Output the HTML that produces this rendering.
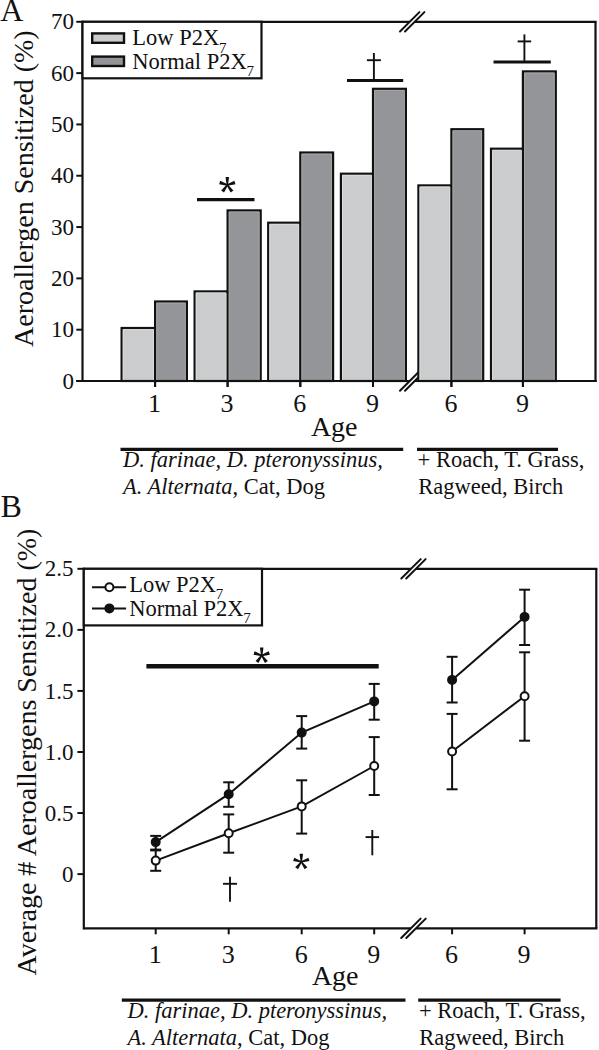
<!DOCTYPE html>
<html><head><meta charset="utf-8"><title>Figure</title>
<style>
html,body{margin:0;padding:0;background:#fff;}
body{width:599px;height:1050px;overflow:hidden;}
svg{display:block;}
text{font-family:"Liberation Serif", serif;fill:#111;}
</style></head>
<body>
<svg width="599" height="1050" viewBox="0 0 599 1050">
<rect x="0" y="0" width="599" height="1050" fill="#fff"/>
<text x="0.30" y="20.50" font-size="32" text-anchor="start" >A</text>
<text transform="translate(33.3,347) rotate(-90)" x="0" y="0" font-size="28">Aeroallergen Sensitized (%)</text>
<line x1="76.30" y1="381.00" x2="82.50" y2="381.00" stroke="#111" stroke-width="2" stroke-linecap="butt"/>
<text x="74.00" y="388.60" font-size="23" text-anchor="end" >0</text>
<line x1="76.30" y1="329.69" x2="82.50" y2="329.69" stroke="#111" stroke-width="2" stroke-linecap="butt"/>
<text x="74.00" y="337.29" font-size="23" text-anchor="end" >10</text>
<line x1="76.30" y1="278.37" x2="82.50" y2="278.37" stroke="#111" stroke-width="2" stroke-linecap="butt"/>
<text x="74.00" y="285.97" font-size="23" text-anchor="end" >20</text>
<line x1="76.30" y1="227.06" x2="82.50" y2="227.06" stroke="#111" stroke-width="2" stroke-linecap="butt"/>
<text x="74.00" y="234.66" font-size="23" text-anchor="end" >30</text>
<line x1="76.30" y1="175.74" x2="82.50" y2="175.74" stroke="#111" stroke-width="2" stroke-linecap="butt"/>
<text x="74.00" y="183.34" font-size="23" text-anchor="end" >40</text>
<line x1="76.30" y1="124.43" x2="82.50" y2="124.43" stroke="#111" stroke-width="2" stroke-linecap="butt"/>
<text x="74.00" y="132.03" font-size="23" text-anchor="end" >50</text>
<line x1="76.30" y1="73.11" x2="82.50" y2="73.11" stroke="#111" stroke-width="2" stroke-linecap="butt"/>
<text x="74.00" y="80.71" font-size="23" text-anchor="end" >60</text>
<line x1="76.30" y1="21.80" x2="82.50" y2="21.80" stroke="#111" stroke-width="2" stroke-linecap="butt"/>
<text x="74.00" y="29.40" font-size="23" text-anchor="end" >70</text>
<line x1="82.50" y1="20.70" x2="82.50" y2="382.10" stroke="#111" stroke-width="2.2" stroke-linecap="butt"/>
<line x1="76.20" y1="381.00" x2="409.70" y2="381.00" stroke="#111" stroke-width="2.2" stroke-linecap="butt"/>
<line x1="414.70" y1="381.00" x2="596.60" y2="381.00" stroke="#111" stroke-width="2.2" stroke-linecap="butt"/>
<line x1="82.50" y1="21.80" x2="409.70" y2="21.80" stroke="#111" stroke-width="2.2" stroke-linecap="butt"/>
<line x1="414.70" y1="21.80" x2="596.60" y2="21.80" stroke="#111" stroke-width="2.2" stroke-linecap="butt"/>
<line x1="595.50" y1="21.80" x2="595.50" y2="381.00" stroke="#111" stroke-width="2.2" stroke-linecap="butt"/>
<line x1="400.00" y1="31.50" x2="419.40" y2="12.10" stroke="#111" stroke-width="2" stroke-linecap="round"/>
<line x1="405.00" y1="31.50" x2="424.40" y2="12.10" stroke="#111" stroke-width="2" stroke-linecap="round"/>
<line x1="400.00" y1="390.70" x2="419.40" y2="371.30" stroke="#111" stroke-width="2" stroke-linecap="round"/>
<line x1="405.00" y1="390.70" x2="424.40" y2="371.30" stroke="#111" stroke-width="2" stroke-linecap="round"/>
<rect x="121.60" y="328.00" width="33.50" height="53.00" fill="#cbcccd" stroke="#111" stroke-width="2.2"/>
<rect x="155.10" y="301.50" width="31.80" height="79.50" fill="#939598" stroke="#111" stroke-width="2.2"/>
<path d="M123.25,379.90 V329.65 H153.45 V379.90" fill="none" stroke="#dadbdc" stroke-width="1"/>
<path d="M156.75,379.90 V303.15 H185.25 V379.90" fill="none" stroke="#a3a5a7" stroke-width="1"/>
<line x1="155.10" y1="381.00" x2="155.10" y2="387.00" stroke="#111" stroke-width="2" stroke-linecap="butt"/>
<rect x="194.60" y="291.40" width="33.00" height="89.60" fill="#cbcccd" stroke="#111" stroke-width="2.2"/>
<rect x="227.60" y="210.40" width="33.10" height="170.60" fill="#939598" stroke="#111" stroke-width="2.2"/>
<path d="M196.25,379.90 V293.05 H225.95 V379.90" fill="none" stroke="#dadbdc" stroke-width="1"/>
<path d="M229.25,379.90 V212.05 H259.05 V379.90" fill="none" stroke="#a3a5a7" stroke-width="1"/>
<line x1="227.60" y1="381.00" x2="227.60" y2="387.00" stroke="#111" stroke-width="2" stroke-linecap="butt"/>
<rect x="268.20" y="222.70" width="32.10" height="158.30" fill="#cbcccd" stroke="#111" stroke-width="2.2"/>
<rect x="300.30" y="152.50" width="32.80" height="228.50" fill="#939598" stroke="#111" stroke-width="2.2"/>
<path d="M269.85,379.90 V224.35 H298.65 V379.90" fill="none" stroke="#dadbdc" stroke-width="1"/>
<path d="M301.95,379.90 V154.15 H331.45 V379.90" fill="none" stroke="#a3a5a7" stroke-width="1"/>
<line x1="300.30" y1="381.00" x2="300.30" y2="387.00" stroke="#111" stroke-width="2" stroke-linecap="butt"/>
<rect x="340.90" y="173.70" width="32.10" height="207.30" fill="#cbcccd" stroke="#111" stroke-width="2.2"/>
<rect x="373.00" y="88.80" width="32.90" height="292.20" fill="#939598" stroke="#111" stroke-width="2.2"/>
<path d="M342.55,379.90 V175.35 H371.35 V379.90" fill="none" stroke="#dadbdc" stroke-width="1"/>
<path d="M374.65,379.90 V90.45 H404.25 V379.90" fill="none" stroke="#a3a5a7" stroke-width="1"/>
<line x1="373.00" y1="381.00" x2="373.00" y2="387.00" stroke="#111" stroke-width="2" stroke-linecap="butt"/>
<rect x="418.40" y="185.40" width="33.00" height="195.60" fill="#cbcccd" stroke="#111" stroke-width="2.2"/>
<rect x="451.40" y="129.20" width="31.80" height="251.80" fill="#939598" stroke="#111" stroke-width="2.2"/>
<path d="M420.05,379.90 V187.05 H449.75 V379.90" fill="none" stroke="#dadbdc" stroke-width="1"/>
<path d="M453.05,379.90 V130.85 H481.55 V379.90" fill="none" stroke="#a3a5a7" stroke-width="1"/>
<line x1="451.40" y1="381.00" x2="451.40" y2="387.00" stroke="#111" stroke-width="2" stroke-linecap="butt"/>
<rect x="491.00" y="148.70" width="31.90" height="232.30" fill="#cbcccd" stroke="#111" stroke-width="2.2"/>
<rect x="522.90" y="71.40" width="32.90" height="309.60" fill="#939598" stroke="#111" stroke-width="2.2"/>
<path d="M492.65,379.90 V150.35 H521.25 V379.90" fill="none" stroke="#dadbdc" stroke-width="1"/>
<path d="M524.55,379.90 V73.05 H554.15 V379.90" fill="none" stroke="#a3a5a7" stroke-width="1"/>
<line x1="522.90" y1="381.00" x2="522.90" y2="387.00" stroke="#111" stroke-width="2" stroke-linecap="butt"/>
<line x1="81.40" y1="381.00" x2="409.70" y2="381.00" stroke="#111" stroke-width="2.2" stroke-linecap="butt"/>
<line x1="414.70" y1="381.00" x2="596.60" y2="381.00" stroke="#111" stroke-width="2.2" stroke-linecap="butt"/>
<line x1="155.10" y1="381.00" x2="155.10" y2="387.00" stroke="#111" stroke-width="2" stroke-linecap="butt"/>
<line x1="227.60" y1="381.00" x2="227.60" y2="387.00" stroke="#111" stroke-width="2" stroke-linecap="butt"/>
<line x1="300.30" y1="381.00" x2="300.30" y2="387.00" stroke="#111" stroke-width="2" stroke-linecap="butt"/>
<line x1="373.00" y1="381.00" x2="373.00" y2="387.00" stroke="#111" stroke-width="2" stroke-linecap="butt"/>
<line x1="451.40" y1="381.00" x2="451.40" y2="387.00" stroke="#111" stroke-width="2" stroke-linecap="butt"/>
<line x1="522.90" y1="381.00" x2="522.90" y2="387.00" stroke="#111" stroke-width="2" stroke-linecap="butt"/>
<text x="154.60" y="411.70" font-size="26" text-anchor="middle" >1</text>
<text x="227.10" y="411.70" font-size="26" text-anchor="middle" >3</text>
<text x="299.80" y="411.70" font-size="26" text-anchor="middle" >6</text>
<text x="372.50" y="411.70" font-size="26" text-anchor="middle" >9</text>
<text x="450.90" y="411.70" font-size="26" text-anchor="middle" >6</text>
<text x="522.40" y="411.70" font-size="26" text-anchor="middle" >9</text>
<text x="310.90" y="435.90" font-size="28" text-anchor="start" >Age</text>
<line x1="197.00" y1="199.70" x2="254.50" y2="199.70" stroke="#111" stroke-width="3.3" stroke-linecap="butt"/>
<polygon points="228.00,185.00 229.05,177.00 225.55,177.00 226.60,185.00" fill="#111"/>
<polygon points="227.52,185.67 235.45,184.19 234.37,180.86 227.08,184.33" fill="#111"/>
<polygon points="226.73,185.41 230.59,192.50 233.42,190.44 227.87,184.59" fill="#111"/>
<polygon points="226.73,184.59 221.18,190.44 224.01,192.50 227.87,185.41" fill="#111"/>
<polygon points="227.52,184.33 220.23,180.86 219.15,184.19 227.08,185.67" fill="#111"/>
<circle cx="227.30" cy="185.00" r="1.3" fill="#111"/>
<line x1="347.00" y1="80.50" x2="403.20" y2="80.50" stroke="#111" stroke-width="3" stroke-linecap="butt"/>
<line x1="373.90" y1="53.00" x2="373.90" y2="79.50" stroke="#111" stroke-width="1.9" stroke-linecap="butt"/>
<line x1="366.90" y1="60.20" x2="380.90" y2="60.20" stroke="#111" stroke-width="1.9" stroke-linecap="butt"/>
<line x1="493.50" y1="62.00" x2="550.80" y2="62.00" stroke="#111" stroke-width="3" stroke-linecap="butt"/>
<line x1="524.40" y1="34.40" x2="524.40" y2="60.90" stroke="#111" stroke-width="1.9" stroke-linecap="butt"/>
<line x1="517.65" y1="41.40" x2="531.15" y2="41.40" stroke="#111" stroke-width="1.9" stroke-linecap="butt"/>
<rect x="82.50" y="21.80" width="179.00" height="56.50" fill="#fff" stroke="#111" stroke-width="2.2"/>
<rect x="92.2" y="33.4" width="31.8" height="9.4" fill="#cbcccd" stroke="#111" stroke-width="2.4"/>
<rect x="92.2" y="56.6" width="31.8" height="9.4" fill="#939598" stroke="#111" stroke-width="2.4"/>
<text x="132.3" y="45.3" font-size="22.5">Low P2X<tspan font-size="15" dy="7.2" dx="-0.3">7</tspan></text>
<text x="132.3" y="68.6" font-size="22.5">Normal P2X<tspan font-size="15" dy="7.2" dx="-0.3">7</tspan></text>
<line x1="120.50" y1="449.30" x2="403.20" y2="449.30" stroke="#111" stroke-width="3.2" stroke-linecap="butt"/>
<line x1="417.00" y1="449.30" x2="558.00" y2="449.30" stroke="#111" stroke-width="3.2" stroke-linecap="butt"/>
<text x="123" y="467.3" font-size="22.5" font-style="italic">D. farinae, D. pteronyssinus,</text>
<text x="123" y="494.1" font-size="22.5"><tspan font-style="italic">A. Alternata</tspan>, Cat, Dog</text>
<text x="417.6" y="467" font-size="22.5">+ Roach, T. Grass,</text>
<text x="418.3" y="494.1" font-size="22.5">Ragweed, Birch</text>
<text x="0.50" y="517.00" font-size="32" text-anchor="start" >B</text>
<text transform="translate(36.4,975.4) rotate(-90)" x="0" y="0" font-size="28">Average # Aeroallergens Sensitized (%)</text>
<line x1="77.40" y1="874.10" x2="83.80" y2="874.10" stroke="#111" stroke-width="2" stroke-linecap="butt"/>
<text x="73.40" y="881.70" font-size="23" text-anchor="end" >0</text>
<line x1="77.40" y1="813.04" x2="83.80" y2="813.04" stroke="#111" stroke-width="2" stroke-linecap="butt"/>
<text x="73.40" y="820.64" font-size="23" text-anchor="end" >0.5</text>
<line x1="77.40" y1="751.98" x2="83.80" y2="751.98" stroke="#111" stroke-width="2" stroke-linecap="butt"/>
<text x="73.40" y="759.58" font-size="23" text-anchor="end" >1.0</text>
<line x1="77.40" y1="690.92" x2="83.80" y2="690.92" stroke="#111" stroke-width="2" stroke-linecap="butt"/>
<text x="73.40" y="698.52" font-size="23" text-anchor="end" >1.5</text>
<line x1="77.40" y1="629.86" x2="83.80" y2="629.86" stroke="#111" stroke-width="2" stroke-linecap="butt"/>
<text x="73.40" y="637.46" font-size="23" text-anchor="end" >2.0</text>
<line x1="77.40" y1="568.80" x2="83.80" y2="568.80" stroke="#111" stroke-width="2" stroke-linecap="butt"/>
<text x="73.40" y="576.40" font-size="23" text-anchor="end" >2.5</text>
<line x1="83.80" y1="567.70" x2="83.80" y2="929.40" stroke="#111" stroke-width="2.2" stroke-linecap="butt"/>
<line x1="83.80" y1="928.30" x2="411.00" y2="928.30" stroke="#111" stroke-width="2.2" stroke-linecap="butt"/>
<line x1="416.00" y1="928.30" x2="597.40" y2="928.30" stroke="#111" stroke-width="2.2" stroke-linecap="butt"/>
<line x1="83.80" y1="568.80" x2="411.00" y2="568.80" stroke="#111" stroke-width="2.2" stroke-linecap="butt"/>
<line x1="415.90" y1="568.80" x2="597.40" y2="568.80" stroke="#111" stroke-width="2.2" stroke-linecap="butt"/>
<line x1="596.30" y1="568.80" x2="596.30" y2="928.30" stroke="#111" stroke-width="2.2" stroke-linecap="butt"/>
<line x1="401.30" y1="578.50" x2="420.70" y2="559.10" stroke="#111" stroke-width="2" stroke-linecap="round"/>
<line x1="406.20" y1="578.50" x2="425.60" y2="559.10" stroke="#111" stroke-width="2" stroke-linecap="round"/>
<line x1="401.20" y1="938.00" x2="420.60" y2="918.60" stroke="#111" stroke-width="2" stroke-linecap="round"/>
<line x1="406.30" y1="938.00" x2="425.70" y2="918.60" stroke="#111" stroke-width="2" stroke-linecap="round"/>
<line x1="155.70" y1="928.30" x2="155.70" y2="934.30" stroke="#111" stroke-width="2" stroke-linecap="butt"/>
<line x1="228.70" y1="928.30" x2="228.70" y2="934.30" stroke="#111" stroke-width="2" stroke-linecap="butt"/>
<line x1="301.70" y1="928.30" x2="301.70" y2="934.30" stroke="#111" stroke-width="2" stroke-linecap="butt"/>
<line x1="374.20" y1="928.30" x2="374.20" y2="934.30" stroke="#111" stroke-width="2" stroke-linecap="butt"/>
<line x1="452.10" y1="928.30" x2="452.10" y2="934.30" stroke="#111" stroke-width="2" stroke-linecap="butt"/>
<line x1="524.60" y1="928.30" x2="524.60" y2="934.30" stroke="#111" stroke-width="2" stroke-linecap="butt"/>
<text x="155.20" y="962.50" font-size="26" text-anchor="middle" >1</text>
<text x="228.20" y="962.50" font-size="26" text-anchor="middle" >3</text>
<text x="301.20" y="962.50" font-size="26" text-anchor="middle" >6</text>
<text x="373.70" y="962.50" font-size="26" text-anchor="middle" >9</text>
<text x="451.60" y="962.50" font-size="26" text-anchor="middle" >6</text>
<text x="524.10" y="962.50" font-size="26" text-anchor="middle" >9</text>
<text x="311.90" y="984.50" font-size="28" text-anchor="start" >Age</text>
<line x1="155.70" y1="850.40" x2="155.70" y2="870.80" stroke="#111" stroke-width="2" stroke-linecap="butt"/>
<line x1="150.20" y1="850.40" x2="161.20" y2="850.40" stroke="#111" stroke-width="2" stroke-linecap="butt"/>
<line x1="150.20" y1="870.80" x2="161.20" y2="870.80" stroke="#111" stroke-width="2" stroke-linecap="butt"/>
<line x1="228.70" y1="814.40" x2="228.70" y2="852.70" stroke="#111" stroke-width="2" stroke-linecap="butt"/>
<line x1="223.20" y1="814.40" x2="234.20" y2="814.40" stroke="#111" stroke-width="2" stroke-linecap="butt"/>
<line x1="223.20" y1="852.70" x2="234.20" y2="852.70" stroke="#111" stroke-width="2" stroke-linecap="butt"/>
<line x1="301.70" y1="780.30" x2="301.70" y2="833.60" stroke="#111" stroke-width="2" stroke-linecap="butt"/>
<line x1="296.20" y1="780.30" x2="307.20" y2="780.30" stroke="#111" stroke-width="2" stroke-linecap="butt"/>
<line x1="296.20" y1="833.60" x2="307.20" y2="833.60" stroke="#111" stroke-width="2" stroke-linecap="butt"/>
<line x1="374.20" y1="737.10" x2="374.20" y2="795.00" stroke="#111" stroke-width="2" stroke-linecap="butt"/>
<line x1="368.70" y1="737.10" x2="379.70" y2="737.10" stroke="#111" stroke-width="2" stroke-linecap="butt"/>
<line x1="368.70" y1="795.00" x2="379.70" y2="795.00" stroke="#111" stroke-width="2" stroke-linecap="butt"/>
<line x1="452.10" y1="713.90" x2="452.10" y2="789.30" stroke="#111" stroke-width="2" stroke-linecap="butt"/>
<line x1="446.60" y1="713.90" x2="457.60" y2="713.90" stroke="#111" stroke-width="2" stroke-linecap="butt"/>
<line x1="446.60" y1="789.30" x2="457.60" y2="789.30" stroke="#111" stroke-width="2" stroke-linecap="butt"/>
<line x1="524.60" y1="652.30" x2="524.60" y2="740.70" stroke="#111" stroke-width="2" stroke-linecap="butt"/>
<line x1="519.10" y1="652.30" x2="530.10" y2="652.30" stroke="#111" stroke-width="2" stroke-linecap="butt"/>
<line x1="519.10" y1="740.70" x2="530.10" y2="740.70" stroke="#111" stroke-width="2" stroke-linecap="butt"/>
<line x1="155.70" y1="835.90" x2="155.70" y2="849.60" stroke="#111" stroke-width="2" stroke-linecap="butt"/>
<line x1="150.20" y1="835.90" x2="161.20" y2="835.90" stroke="#111" stroke-width="2" stroke-linecap="butt"/>
<line x1="150.20" y1="849.60" x2="161.20" y2="849.60" stroke="#111" stroke-width="2" stroke-linecap="butt"/>
<line x1="228.70" y1="782.30" x2="228.70" y2="806.80" stroke="#111" stroke-width="2" stroke-linecap="butt"/>
<line x1="223.20" y1="782.30" x2="234.20" y2="782.30" stroke="#111" stroke-width="2" stroke-linecap="butt"/>
<line x1="223.20" y1="806.80" x2="234.20" y2="806.80" stroke="#111" stroke-width="2" stroke-linecap="butt"/>
<line x1="301.70" y1="716.10" x2="301.70" y2="748.60" stroke="#111" stroke-width="2" stroke-linecap="butt"/>
<line x1="296.20" y1="716.10" x2="307.20" y2="716.10" stroke="#111" stroke-width="2" stroke-linecap="butt"/>
<line x1="296.20" y1="748.60" x2="307.20" y2="748.60" stroke="#111" stroke-width="2" stroke-linecap="butt"/>
<line x1="374.20" y1="683.90" x2="374.20" y2="719.70" stroke="#111" stroke-width="2" stroke-linecap="butt"/>
<line x1="368.70" y1="683.90" x2="379.70" y2="683.90" stroke="#111" stroke-width="2" stroke-linecap="butt"/>
<line x1="368.70" y1="719.70" x2="379.70" y2="719.70" stroke="#111" stroke-width="2" stroke-linecap="butt"/>
<line x1="452.10" y1="656.80" x2="452.10" y2="702.50" stroke="#111" stroke-width="2" stroke-linecap="butt"/>
<line x1="446.60" y1="656.80" x2="457.60" y2="656.80" stroke="#111" stroke-width="2" stroke-linecap="butt"/>
<line x1="446.60" y1="702.50" x2="457.60" y2="702.50" stroke="#111" stroke-width="2" stroke-linecap="butt"/>
<line x1="524.60" y1="589.70" x2="524.60" y2="645.00" stroke="#111" stroke-width="2" stroke-linecap="butt"/>
<line x1="519.10" y1="589.70" x2="530.10" y2="589.70" stroke="#111" stroke-width="2" stroke-linecap="butt"/>
<line x1="519.10" y1="645.00" x2="530.10" y2="645.00" stroke="#111" stroke-width="2" stroke-linecap="butt"/>
<polyline points="155.70,842.10 228.70,794.20 301.70,732.60 374.20,701.40" fill="none" stroke="#111" stroke-width="2"/>
<polyline points="452.10,679.90 524.60,616.90" fill="none" stroke="#111" stroke-width="2"/>
<polyline points="155.70,860.60 228.70,833.30 301.70,806.40 374.20,766.00" fill="none" stroke="#111" stroke-width="2"/>
<polyline points="452.10,751.50 524.60,696.20" fill="none" stroke="#111" stroke-width="2"/>
<circle cx="155.70" cy="842.10" r="4.2" fill="#111" stroke="#111" stroke-width="1.6"/>
<circle cx="228.70" cy="794.20" r="4.2" fill="#111" stroke="#111" stroke-width="1.6"/>
<circle cx="301.70" cy="732.60" r="4.2" fill="#111" stroke="#111" stroke-width="1.6"/>
<circle cx="374.20" cy="701.40" r="4.2" fill="#111" stroke="#111" stroke-width="1.6"/>
<circle cx="452.10" cy="679.90" r="4.2" fill="#111" stroke="#111" stroke-width="1.6"/>
<circle cx="524.60" cy="616.90" r="4.2" fill="#111" stroke="#111" stroke-width="1.6"/>
<circle cx="155.70" cy="860.60" r="4.0" fill="#fff" stroke="#111" stroke-width="2"/>
<circle cx="228.70" cy="833.30" r="4.0" fill="#fff" stroke="#111" stroke-width="2"/>
<circle cx="301.70" cy="806.40" r="4.0" fill="#fff" stroke="#111" stroke-width="2"/>
<circle cx="374.20" cy="766.00" r="4.0" fill="#fff" stroke="#111" stroke-width="2"/>
<circle cx="452.10" cy="751.50" r="4.0" fill="#fff" stroke="#111" stroke-width="2"/>
<circle cx="524.60" cy="696.20" r="4.0" fill="#fff" stroke="#111" stroke-width="2"/>
<line x1="146.40" y1="666.30" x2="378.70" y2="666.30" stroke="#111" stroke-width="4.6" stroke-linecap="butt"/>
<polygon points="262.40,655.50 263.45,647.50 259.95,647.50 261.00,655.50" fill="#111"/>
<polygon points="261.92,656.17 269.85,654.69 268.77,651.36 261.48,654.83" fill="#111"/>
<polygon points="261.13,655.91 264.99,663.00 267.82,660.94 262.27,655.09" fill="#111"/>
<polygon points="261.13,655.09 255.58,660.94 258.41,663.00 262.27,655.91" fill="#111"/>
<polygon points="261.92,654.83 254.63,651.36 253.55,654.69 261.48,656.17" fill="#111"/>
<circle cx="261.70" cy="655.50" r="1.3" fill="#111"/>
<line x1="230.00" y1="876.80" x2="230.00" y2="901.80" stroke="#111" stroke-width="1.9" stroke-linecap="butt"/>
<line x1="223.00" y1="883.80" x2="237.00" y2="883.80" stroke="#111" stroke-width="1.9" stroke-linecap="butt"/>
<polygon points="302.00,861.80 303.05,853.80 299.55,853.80 300.60,861.80" fill="#111"/>
<polygon points="301.52,862.47 309.45,860.99 308.37,857.66 301.08,861.13" fill="#111"/>
<polygon points="300.73,862.21 304.59,869.30 307.42,867.24 301.87,861.39" fill="#111"/>
<polygon points="300.73,861.39 295.18,867.24 298.01,869.30 301.87,862.21" fill="#111"/>
<polygon points="301.52,861.13 294.23,857.66 293.15,860.99 301.08,862.47" fill="#111"/>
<circle cx="301.30" cy="861.80" r="1.3" fill="#111"/>
<line x1="372.30" y1="830.00" x2="372.30" y2="855.30" stroke="#111" stroke-width="1.9" stroke-linecap="butt"/>
<line x1="365.55" y1="837.10" x2="379.05" y2="837.10" stroke="#111" stroke-width="1.9" stroke-linecap="butt"/>
<rect x="83.80" y="568.80" width="178.20" height="56.60" fill="#fff" stroke="#111" stroke-width="2.2"/>
<line x1="92.00" y1="587.20" x2="126.10" y2="587.20" stroke="#111" stroke-width="2" stroke-linecap="butt"/>
<line x1="92.00" y1="608.40" x2="126.10" y2="608.40" stroke="#111" stroke-width="2" stroke-linecap="butt"/>
<circle cx="109.4" cy="587.2" r="4.0" fill="#fff" stroke="#111" stroke-width="2"/>
<circle cx="109.4" cy="608.4" r="4.2" fill="#111" stroke="#111" stroke-width="1.6"/>
<text x="129.2" y="591.8" font-size="22.5">Low P2X<tspan font-size="15" dy="7.2" dx="-0.3">7</tspan></text>
<text x="129.2" y="616.0" font-size="22.5">Normal P2X<tspan font-size="15" dy="7.2" dx="-0.3">7</tspan></text>
<line x1="121.80" y1="1000.20" x2="405.50" y2="1000.20" stroke="#111" stroke-width="3.2" stroke-linecap="butt"/>
<line x1="418.20" y1="1000.20" x2="560.60" y2="1000.20" stroke="#111" stroke-width="3.2" stroke-linecap="butt"/>
<text x="127.4" y="1017.9" font-size="22.5" font-style="italic">D. farinae, D. pteronyssinus,</text>
<text x="127.4" y="1044.6" font-size="22.5"><tspan font-style="italic">A. Alternata</tspan>, Cat, Dog</text>
<text x="418.9" y="1017.6" font-size="22.5">+ Roach, T. Grass,</text>
<text x="419.3" y="1044.6" font-size="22.5">Ragweed, Birch</text>
</svg>
</body></html>
